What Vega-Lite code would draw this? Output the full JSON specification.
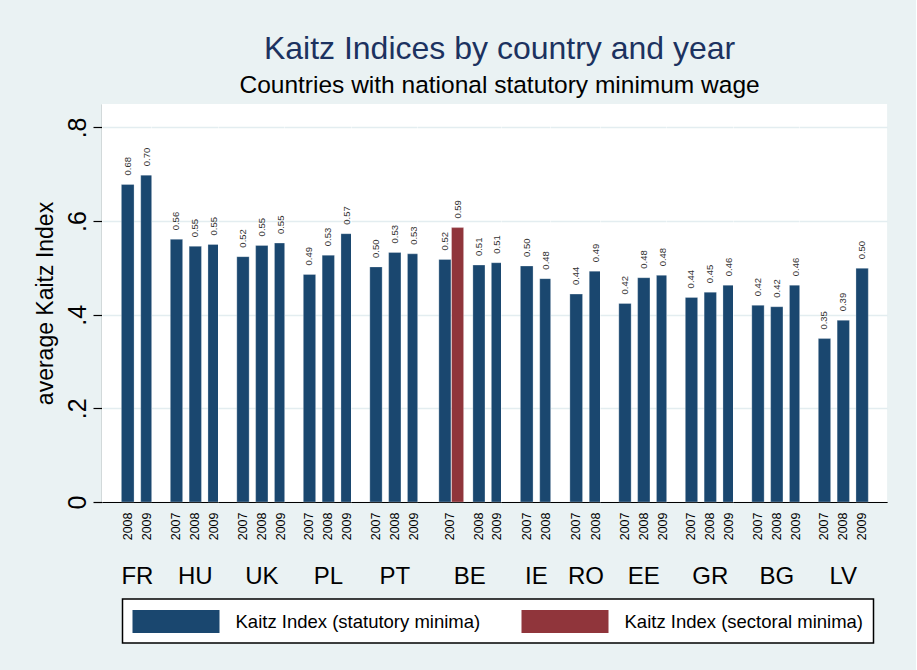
{
  "$schema": "https://vega.github.io/schema/vega-lite/v6.json",
  "background": "#eaf2f3",
  "padding": {"left": 34, "top": 32, "right": 28, "bottom": 26},
  "title": {
    "text": "Kaitz Indices by country and year",
    "subtitle": "Countries with national statutory minimum wage",
    "anchor": "middle",
    "dx": 39,
    "fontSize": 32,
    "fontWeight": "normal",
    "color": "#1c3260",
    "subtitleFontSize": 24.5,
    "subtitleColor": "black",
    "subtitlePadding": 8,
    "offset": 6
  },
  "data": {
    "values": [
      {"country": "FR", "slot": "2008", "type": "Kaitz Index (statutory minima)", "value": 0.678},
      {"country": "FR", "slot": "2009", "type": "Kaitz Index (statutory minima)", "value": 0.698},
      {"country": "HU", "slot": "2007", "type": "Kaitz Index (statutory minima)", "value": 0.561},
      {"country": "HU", "slot": "2008", "type": "Kaitz Index (statutory minima)", "value": 0.546},
      {"country": "HU", "slot": "2009", "type": "Kaitz Index (statutory minima)", "value": 0.550},
      {"country": "UK", "slot": "2007", "type": "Kaitz Index (statutory minima)", "value": 0.524},
      {"country": "UK", "slot": "2008", "type": "Kaitz Index (statutory minima)", "value": 0.548},
      {"country": "UK", "slot": "2009", "type": "Kaitz Index (statutory minima)", "value": 0.553},
      {"country": "PL", "slot": "2007", "type": "Kaitz Index (statutory minima)", "value": 0.486},
      {"country": "PL", "slot": "2008", "type": "Kaitz Index (statutory minima)", "value": 0.527},
      {"country": "PL", "slot": "2009", "type": "Kaitz Index (statutory minima)", "value": 0.573},
      {"country": "PT", "slot": "2007", "type": "Kaitz Index (statutory minima)", "value": 0.502},
      {"country": "PT", "slot": "2008", "type": "Kaitz Index (statutory minima)", "value": 0.533},
      {"country": "PT", "slot": "2009", "type": "Kaitz Index (statutory minima)", "value": 0.530},
      {"country": "BE", "slot": "2007a", "type": "Kaitz Index (statutory minima)", "value": 0.518},
      {"country": "BE", "slot": "2007b", "type": "Kaitz Index (sectoral minima)", "value": 0.586},
      {"country": "BE", "slot": "2008", "type": "Kaitz Index (statutory minima)", "value": 0.506},
      {"country": "BE", "slot": "2009", "type": "Kaitz Index (statutory minima)", "value": 0.511},
      {"country": "IE", "slot": "2007", "type": "Kaitz Index (statutory minima)", "value": 0.504},
      {"country": "IE", "slot": "2008", "type": "Kaitz Index (statutory minima)", "value": 0.477},
      {"country": "RO", "slot": "2007", "type": "Kaitz Index (statutory minima)", "value": 0.444},
      {"country": "RO", "slot": "2008", "type": "Kaitz Index (statutory minima)", "value": 0.493},
      {"country": "EE", "slot": "2007", "type": "Kaitz Index (statutory minima)", "value": 0.424},
      {"country": "EE", "slot": "2008", "type": "Kaitz Index (statutory minima)", "value": 0.479},
      {"country": "EE", "slot": "2009", "type": "Kaitz Index (statutory minima)", "value": 0.484},
      {"country": "GR", "slot": "2007", "type": "Kaitz Index (statutory minima)", "value": 0.437},
      {"country": "GR", "slot": "2008", "type": "Kaitz Index (statutory minima)", "value": 0.448},
      {"country": "GR", "slot": "2009", "type": "Kaitz Index (statutory minima)", "value": 0.463},
      {"country": "BG", "slot": "2007", "type": "Kaitz Index (statutory minima)", "value": 0.420},
      {"country": "BG", "slot": "2008", "type": "Kaitz Index (statutory minima)", "value": 0.417},
      {"country": "BG", "slot": "2009", "type": "Kaitz Index (statutory minima)", "value": 0.463},
      {"country": "LV", "slot": "2007", "type": "Kaitz Index (statutory minima)", "value": 0.349},
      {"country": "LV", "slot": "2008", "type": "Kaitz Index (statutory minima)", "value": 0.388},
      {"country": "LV", "slot": "2009", "type": "Kaitz Index (statutory minima)", "value": 0.499}
    ]
  },
  "facet": {
    "column": {
      "field": "country",
      "type": "nominal",
      "sort": ["FR", "HU", "UK", "PL", "PT", "BE", "IE", "RO", "EE", "GR", "BG", "LV"],
      "header": {
        "title": null,
        "labelOrient": "bottom",
        "labelFontSize": 24,
        "labelColor": "black",
        "labelPadding": 25
      }
    }
  },
  "spacing": {"column": -21.5},
  "resolve": {"scale": {"x": "independent"}},
  "spec": {
    "width": {"step": 16.8},
    "height": 398,
    "encoding": {
      "x": {
        "field": "slot",
        "type": "nominal",
        "scale": {"paddingInner": 0.3452, "paddingOuter": 1.2798},
        "axis": {
          "title": null,
          "labelExpr": "datum.value == '2007b' ? '' : substring(datum.value, 0, 4)",
          "labelAngle": 270,
          "labelFontSize": 12.5,
          "labelPadding": 10,
          "labelColor": "black",
          "labelOverlap": false,
          "labelOffset": {"condition": {"test": "datum.value == '2007a'", "value": 8.4}, "value": 0},
          "ticks": false,
          "grid": false,
          "domainColor": "black",
          "domainWidth": 1.2
        }
      },
      "y": {
        "field": "value",
        "type": "quantitative",
        "scale": {"domain": [0, 0.85], "nice": false},
        "axis": {
          "values": [0, 0.2, 0.4, 0.6, 0.8],
          "labelExpr": "datum.value == 0 ? '0' : replace(format(datum.value, '.1f'), '0.', '.')",
          "labelAngle": 270,
          "labelAlign": "center",
          "labelBaseline": "alphabetic",
          "labelFontSize": 25,
          "labelPadding": 8,
          "labelColor": "black",
          "tickSize": 9,
          "tickColor": "black",
          "tickWidth": 1.2,
          "domainColor": "black",
          "domainWidth": 1.2,
          "title": "average Kaitz Index",
          "titleFontSize": 23,
          "titleFontWeight": "normal",
          "titleColor": "black",
          "titlePadding": 8,
          "grid": true,
          "gridColor": "#e3edf0",
          "gridWidth": 1.5
        }
      }
    },
    "layer": [
      {
        "transform": [{"filter": "datum.slot != '2007a' && datum.slot != '2007b'"}],
        "layer": [
          {
            "mark": {"type": "bar", "stroke": "white", "strokeOpacity": 0.35, "strokeWidth": 0.8},
            "encoding": {
              "color": {
                "field": "type",
                "type": "nominal",
                "scale": {"domain": ["Kaitz Index (statutory minima)", "Kaitz Index (sectoral minima)"], "range": ["#1a476f", "#90353b"]}
              }
            }
          },
          {
            "mark": {"type": "text", "angle": 270, "align": "left", "baseline": "middle", "dx": 9, "fontSize": 9.5, "color": "#333333"},
            "encoding": {"text": {"field": "value", "type": "quantitative", "format": ".2f"}}
          }
        ]
      },
      {
        "transform": [{"filter": "datum.slot == '2007a'"}],
        "layer": [
          {
            "mark": {"type": "bar", "stroke": "white", "strokeOpacity": 0.35, "strokeWidth": 0.8, "xOffset": 2.9},
            "encoding": {
              "color": {
                "field": "type",
                "type": "nominal",
                "scale": {"domain": ["Kaitz Index (statutory minima)", "Kaitz Index (sectoral minima)"], "range": ["#1a476f", "#90353b"]}
              }
            }
          },
          {
            "mark": {"type": "text", "angle": 270, "align": "left", "baseline": "middle", "dx": 9, "fontSize": 9.5, "color": "#333333", "xOffset": 2.9},
            "encoding": {"text": {"field": "value", "type": "quantitative", "format": ".2f"}}
          }
        ]
      },
      {
        "transform": [{"filter": "datum.slot == '2007b'"}],
        "layer": [
          {
            "mark": {"type": "bar", "stroke": "white", "strokeOpacity": 0.35, "strokeWidth": 0.8, "xOffset": -2.9},
            "encoding": {
              "color": {
                "field": "type",
                "type": "nominal",
                "scale": {"domain": ["Kaitz Index (statutory minima)", "Kaitz Index (sectoral minima)"], "range": ["#1a476f", "#90353b"]}
              }
            }
          },
          {
            "mark": {"type": "text", "angle": 270, "align": "left", "baseline": "middle", "dx": 9, "fontSize": 9.5, "color": "#333333", "xOffset": -2.9},
            "encoding": {"text": {"field": "value", "type": "quantitative", "format": ".2f"}}
          }
        ]
      }
    ]
  },
  "config": {
    "font": "Liberation Sans",
    "view": {"fill": "white", "stroke": null},
    "legend": {
      "orient": "none",
      "legendX": 20.5,
      "legendY": 495,
      "direction": "horizontal",
      "title": null,
      "symbolType": "M-1,-0.92H5.96V0.92H-1Z",
      "symbolSize": 625,
      "symbolStrokeWidth": 0,
      "labelFontSize": 18.5,
      "labelColor": "black",
      "labelOffset": 78,
      "labelLimit": 400,
      "columnPadding": 41,
      "padding": 10,
      "fillColor": "white",
      "strokeColor": "black",
      "strokeWidth": 1.5
    }
  }
}
